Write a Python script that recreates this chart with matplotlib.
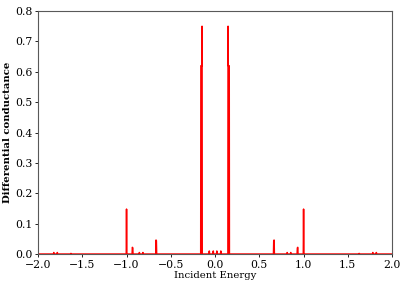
import numpy as np
import matplotlib
matplotlib.use('Agg')
import matplotlib.pyplot as plt

plt.rcParams['font.family'] = 'DejaVu Serif'

# 入射能量 / 微分电导 (读图得到)
energy = [-2.0,
          -1.825, -1.822, -1.819,
          -1.785, -1.782, -1.779,
          -1.631, -1.628, -1.625,
          -1.003, -1.000, -0.997,
          -0.937, -0.934, -0.930, -0.927,
          -0.858, -0.855, -0.852,
          -0.818, -0.815, -0.812,
          -0.670, -0.667, -0.663, -0.660,
          -0.162, -0.160, -0.149, -0.147, -0.145,
          -0.068, -0.065, -0.062,
          -0.023, -0.020, -0.017,
          0.017, 0.020, 0.023,
          0.062, 0.065, 0.068,
          0.145, 0.147, 0.149, 0.160, 0.162,
          0.660, 0.663, 0.667, 0.670,
          0.812, 0.815, 0.818,
          0.852, 0.855, 0.858,
          0.927, 0.930, 0.934, 0.937,
          0.997, 1.000, 1.003,
          1.625, 1.628, 1.631,
          1.779, 1.782, 1.785,
          1.819, 1.822, 1.825,
          2.0]
conductance = [0.0,
               0.0, 0.005, 0.0,
               0.0, 0.005, 0.0,
               0.0, 0.002, 0.0,
               0.0, 0.148, 0.0,
               0.0, 0.022, 0.020, 0.0,
               0.0, 0.005, 0.0,
               0.0, 0.005, 0.0,
               0.0, 0.046, 0.044, 0.0,
               0.0, 0.62, 0.62, 0.75, 0.0,
               0.0, 0.010, 0.0,
               0.0, 0.010, 0.0,
               0.0, 0.010, 0.0,
               0.0, 0.010, 0.0,
               0.0, 0.75, 0.62, 0.62, 0.0,
               0.0, 0.044, 0.046, 0.0,
               0.0, 0.005, 0.0,
               0.0, 0.005, 0.0,
               0.0, 0.020, 0.022, 0.0,
               0.0, 0.148, 0.0,
               0.0, 0.002, 0.0,
               0.0, 0.005, 0.0,
               0.0, 0.005, 0.0,
               0.0]

fig = plt.figure(figsize=(4.07, 2.91), dpi=100)
ax = fig.add_axes([0.0934, 0.127, 0.870, 0.835])
ax.plot(energy, conductance, color='red', linewidth=1.1)
ax.set_xlim(-2.0, 2.0)
ax.set_ylim(0.0, 0.8)
ax.set_xticks(np.arange(-2.0, 2.01, 0.5))
ax.set_yticks(np.arange(0.0, 0.81, 0.1))
ax.tick_params(labelsize=7.8, length=2.5, width=0.6, pad=1.5)
for s in ax.spines.values():
    s.set_linewidth(0.8)
    s.set_color('0.35')
ax.set_xlabel('Incident Energy', fontsize=7.3, labelpad=1)
ax.set_ylabel('Differential conductance', fontsize=7.3, fontweight='bold', labelpad=2)

plt.savefig('out.png', dpi=100)
